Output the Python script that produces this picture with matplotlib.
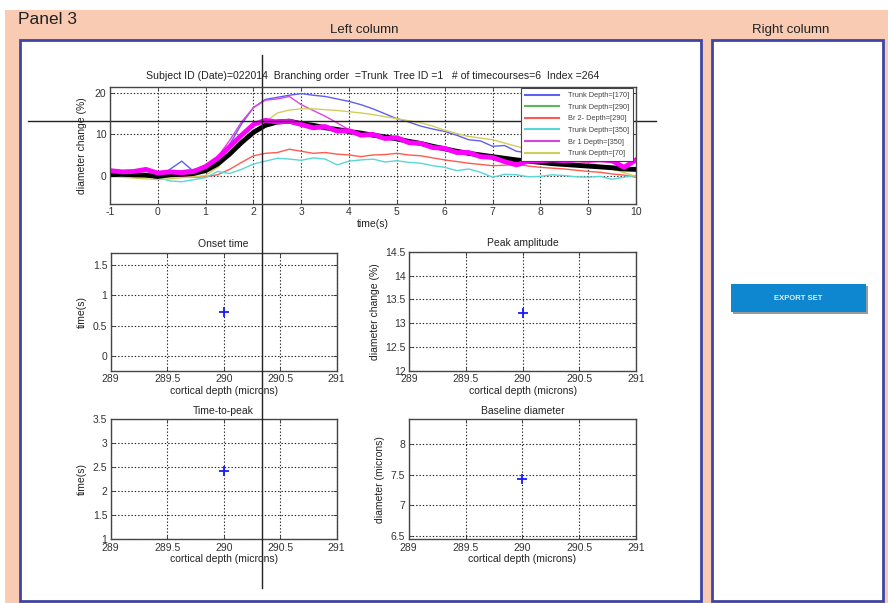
import matplotlib
matplotlib.use('Agg')
import matplotlib.pyplot as plt
from matplotlib.patches import Rectangle
from matplotlib.ticker import FuncFormatter, MultipleLocator

plt.rcParams['font.family'] = ['Liberation Sans', 'DejaVu Sans']
plt.rcParams['axes.unicode_minus'] = False

# time axis of the averaged timecourses (s)
t = [-1, -0.75, -0.5, -0.25, 0, 0.25, 0.5, 0.75, 1, 1.25, 1.5, 1.75, 2, 2.25, 2.5,
     2.75, 3, 3.25, 3.5, 3.75, 4, 4.25, 4.5, 4.75, 5, 5.25, 5.5, 5.75, 6, 6.25, 6.5,
     6.75, 7, 7.25, 7.5, 7.75, 8, 8.25, 8.5, 8.75, 9, 9.25, 9.5, 9.75, 10]

trunk_170 = [0.0, 0.2, -0.1, 0.1, -0.8, 1.5, 3.5, 1.0, 1.2, 3.5, 7.5, 12.5, 16.5, 18.5, 19.0,
             19.5, 19.9, 19.5, 19.2, 18.6, 18.0, 17.2, 16.2, 15.0, 13.8, 13.0, 12.0, 11.3, 10.7, 9.8, 8.7,
             8.4, 7.1, 7.3, 5.9, 5.5, 5.2, 5.0, 4.8, 4.5, 4.3, 4.0, 3.8, 3.6, 3.4]
trunk_290 = [0.0, 0.1, 0.0, -0.1, -0.4, 0.0, 0.1, 0.3, 1.0, 2.5, 5.0, 7.8, 10.3, 12.0, 12.8,
             13.0, 12.4, 12.0, 11.4, 11.0, 10.5, 10.1, 9.6, 9.2, 8.7, 8.1, 7.6, 6.9, 6.3, 5.7, 5.2,
             4.8, 4.4, 4.0, 3.6, 3.4, 3.1, 2.8, 2.6, 2.4, 2.2, 2.0, 1.8, 1.5, 1.4]
br2_290 = [-0.2, 0.0, -0.4, -0.2, -0.5, -0.3, -0.2, -0.4, -0.3, 0.2, 1.5, 3.2, 4.8, 5.4, 5.6,
           6.4, 5.9, 5.4, 5.6, 5.2, 5.0, 4.6, 5.0, 5.1, 5.4, 5.0, 4.8, 4.3, 3.8, 3.4, 3.0,
           2.7, 2.4, 2.5, 2.8, 2.3, 2.0, 1.8, 1.6, 1.3, 1.0, 0.8, 0.4, 0.1, -0.4]
trunk_350 = [0.0, -0.2, 0.1, -0.3, -0.4, -1.3, -1.5, -1.0, -0.5, 1.0, 0.5, 1.5, 2.8, 3.5, 4.2,
             4.0, 3.7, 4.3, 4.0, 2.6, 3.5, 3.8, 4.0, 3.3, 3.6, 3.2, 3.0, 2.4, 2.0, 1.2, 1.6,
             0.8, -0.4, 0.3, 0.2, -0.3, -0.2, 0.2, 0.0, -0.3, -0.4, -0.2, -0.9, -0.4, 0.0]
br1_350 = [0.3, 0.5, 0.2, 0.4, -0.3, 0.8, 1.2, 1.5, 2.0, 4.5, 8.5, 13.0, 16.5, 18.3, 18.6,
           19.2, 17.2, 15.8, 14.4, 12.8, 11.1, 10.0, 9.7, 9.1, 9.0, 8.1, 7.7, 6.9, 6.5, 5.7, 5.5,
           4.7, 4.3, 3.5, 2.7, 3.5, 3.6, 3.7, 3.6, 3.7, 3.6, 3.7, 3.5, 2.1, 3.7]
trunk_70 = [-0.2, -0.4, -0.6, -0.8, -1.0, -0.8, -0.5, -0.3, 0.0, 2.0, 5.0, 7.8, 10.0, 13.0, 15.2,
            15.9, 16.2, 16.2, 16.0, 15.8, 15.5, 15.2, 14.8, 14.3, 13.8, 13.3, 12.8, 12.0, 11.0, 10.2, 9.5,
            9.1, 8.7, 7.9, 7.1, 6.3, 5.5, 4.8, 4.0, 3.5, 3.1, 2.5, 1.6, 0.7, -0.2]
mean_all = [0.2, 0.3, 0.2, 0.1, -0.2, 0.2, 0.3, 0.5, 1.2, 2.8, 5.2, 8.0, 10.5, 12.2, 13.0,
            13.2, 12.6, 12.2, 11.6, 11.2, 10.7, 10.3, 9.8, 9.4, 8.9, 8.3, 7.8, 7.1, 6.5, 5.9, 5.4,
            5.0, 4.6, 4.2, 3.8, 3.5, 3.2, 2.9, 2.7, 2.5, 2.3, 2.1, 1.9, 1.6, 1.5]
selected = [1.2, 0.9, 1.0, 1.5, 0.6, 0.9, 0.7, 1.0, 2.2, 4.2, 7.0, 9.8, 12.4, 13.4, 13.0,
            13.2, 12.4, 11.6, 11.9, 10.8, 10.9, 9.8, 10.0, 9.0, 9.2, 8.0, 7.8, 6.8, 6.6, 5.6, 5.6,
            4.6, 4.4, 3.4, 2.6, 3.5, 3.6, 3.8, 3.6, 3.8, 3.7, 3.8, 3.6, 2.0, 3.8]

traces = [
    ('Trunk Depth=[170]', trunk_170, '#5f5ff2'),
    ('Trunk Depth=[290]', trunk_290, '#5cb85c'),
    ('Br 2- Depth=[290]', br2_290, '#ff5a50'),
    ('Trunk Depth=[350]', trunk_350, '#5ad6d6'),
    ('Br 1 Depth=[350]', br1_350, '#dd44dd'),
    ('Trunk Depth=[70]', trunk_70, '#d2cd5a'),
]

title_txt = ('Subject ID (Date)=022014  Branching order  =Trunk  Tree ID =1   '
             '# of timecourses=6  Index =264')

# summary measures vs cortical depth
depth = [290]
onset_time = [0.73]
peak_amp = [13.22]
time_to_peak = [2.43]
baseline_diam = [7.43]
cursor_t = 2.17

W, H = 888, 603


def box(l, t_, r, b):
    # pixel box -> figure fraction
    return [l / W, 1 - b / H, (r - l) / W, (b - t_) / H]


def matlab_style(ax, fs=7.5):
    for s in ax.spines.values():
        s.set_color('#454545')
        s.set_linewidth(1.0)
    ax.tick_params(direction='in', top=True, right=True, length=3, width=0.6,
                   labelsize=fs, pad=2.5, colors='#333333', labelcolor='#333333')
    ax.grid(True, linestyle=(0, (1.2, 1.8)), color='#222222', linewidth=0.8)
    ax.set_axisbelow(True)


fig = plt.figure(figsize=(W / 100, H / 100), dpi=100)
fig.patch.set_facecolor('white')

# panel backgrounds (kept below the axes)
fig.patches.append(Rectangle((5 / W, 0), 1, 1 - 10 / H, transform=fig.transFigure,
                             facecolor='#f8cbb2', edgecolor='none', zorder=-10))
for l, tp, r, b in [(20, 40, 701, 601), (712, 40, 883, 601)]:
    x0, y0, w, h = box(l, tp, r, b)
    fig.patches.append(Rectangle((x0, y0), w, h, transform=fig.transFigure,
                                 facecolor='white', edgecolor='#3d46a6', linewidth=2, zorder=-9))

# export button
x0, y0, w, h = box(733, 286, 868, 314)
fig.patches.append(Rectangle((x0, y0), w, h, transform=fig.transFigure,
                             facecolor='#9a9a9a', edgecolor='none', zorder=-8))
x0, y0, w, h = box(731, 284, 866, 312)
fig.patches.append(Rectangle((x0, y0), w, h, transform=fig.transFigure,
                             facecolor='#0e86d0', edgecolor='none', zorder=-7))
fig.text(798.5 / W, 1 - 298.5 / H, 'EXPORT SET', color='#dfeefa', fontsize=5.5,
         fontweight='bold', ha='center', va='center')

fig.text(18 / W, 1 - 20 / H, 'Panel 3', fontsize=12.5, ha='left', va='center', color='#222222')
fig.text(364 / W, 1 - 30 / H, 'Left column', fontsize=9.5, ha='center', va='center', color='#222222')
fig.text(791 / W, 1 - 30 / H, 'Right column', fontsize=9.5, ha='center', va='center', color='#222222')

# main timecourse axes
ax = fig.add_axes(box(110, 87, 636, 204))
for label, y, c in traces:
    ax.plot(t, y, color=c, linewidth=1.0, label=label)
ax.plot(t, mean_all, color='black', linewidth=3.5)
ax.plot(t, selected, color='#ff00ff', linewidth=3.5)
ax.set_xlim(-1, 10)
ax.set_ylim(-6.9, 21.5)
ax.set_xticks(range(-1, 11))
ax.set_yticks([0, 10, 20])
matlab_style(ax, 7.5)
ax.set_title(title_txt, fontsize=7.6, pad=6, color='#222222')
ax.set_xlabel('time(s)', fontsize=7.5, labelpad=1, color='#222222')
ax.set_ylabel('diameter change (%)', fontsize=7.5, labelpad=6, color='#222222')
leg = ax.legend(loc='upper right', bbox_to_anchor=(0.994, 0.991), borderaxespad=0,
                fontsize=5.3, handlelength=4.6, handletextpad=1.2, labelspacing=0.6,
                borderpad=0.55, fancybox=False, framealpha=1, edgecolor='#444444')
leg.get_frame().set_linewidth(0.8)
for txt in leg.get_texts():
    txt.set_color('#444444')
for ln in leg.get_lines():
    ln.set_linewidth(1.5)

fmt = FuncFormatter(lambda v, p: '%g' % v)

panels = [
    ((110.7, 252.7, 336.7, 371), onset_time, 'Onset time', 'time(s)', (-0.25, 1.7)),
    ((409.3, 251.7, 636, 371), peak_amp, 'Peak amplitude', 'diameter change (%)', (12, 14.5)),
    ((110.7, 419.3, 336.7, 539.3), time_to_peak, 'Time-to-peak', 'time(s)', (1, 3.5)),
    ((408.7, 419.3, 636, 539.3), baseline_diam, 'Baseline diameter', 'diameter (microns)', (6.44, 8.41)),
]
for rect, vals, ttl, ylab, ylim in panels:
    a = fig.add_axes(box(*rect))
    a.plot(depth, vals, '+', color='#1a1aff', markersize=7, markeredgewidth=1.3)
    a.set_xlim(289, 291)
    a.set_ylim(*ylim)
    a.xaxis.set_major_locator(MultipleLocator(0.5))
    a.yaxis.set_major_locator(MultipleLocator(0.5))
    a.xaxis.set_major_formatter(fmt)
    a.yaxis.set_major_formatter(fmt)
    matlab_style(a, 7.5)
    a.set_title(ttl, fontsize=7.5, pad=4, color='#222222')
    a.set_xlabel('cortical depth (microns)', fontsize=7.5, labelpad=1, color='#222222')
    a.set_ylabel(ylab, fontsize=7.5, labelpad=4, color='#222222')

# data cursor crosshair spanning the left column
ax.set_zorder(10)
ax.axvline(cursor_t, ymin=(204 - 55) / 117, ymax=(204 - 588) / 117, color='#222222',
           linewidth=1.0, clip_on=False)
ax.axhline(peak_amp[0], xmin=(28 - 110) / 526, xmax=(656 - 110) / 526, color='#222222',
           linewidth=1.0, clip_on=False)

fig.savefig('out.png', dpi=100)
